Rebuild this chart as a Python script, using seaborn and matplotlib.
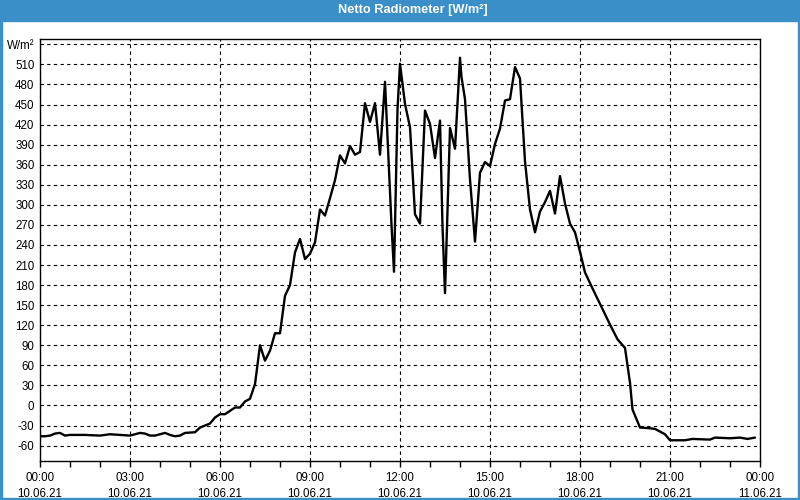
import matplotlib
matplotlib.use("Agg")
import matplotlib.pyplot as plt
from matplotlib.patches import Rectangle
from matplotlib.ticker import MultipleLocator
import seaborn as sns
import pandas as pd

times = ["00:00", "00:10", "00:20", "00:30", "00:40", "00:50", "01:00", "01:30", "02:00", "02:20",
         "02:40", "03:00", "03:20", "03:30", "03:40", "03:50", "04:00", "04:10", "04:20", "04:30",
         "04:40", "04:50", "05:10", "05:20", "05:30", "05:40", "05:50", "06:00", "06:10", "06:20",
         "06:30", "06:40", "06:50", "07:00", "07:10", "07:20", "07:30", "07:40", "07:50", "08:00",
         "08:10", "08:20", "08:30", "08:40", "08:50", "09:00", "09:10", "09:20", "09:30", "09:40",
         "09:50", "10:00", "10:10", "10:20", "10:30", "10:40", "10:50", "11:00", "11:10", "11:20",
         "11:30", "11:43", "11:48", "11:55", "12:00", "12:10", "12:20", "12:30", "12:40", "12:50",
         "13:00", "13:10", "13:20", "13:25", "13:30", "13:40", "13:50", "14:00", "14:03", "14:10",
         "14:20", "14:30", "14:40", "14:50", "15:00", "15:10", "15:20", "15:30", "15:40", "15:50",
         "16:00", "16:10", "16:20", "16:30", "16:40", "16:50", "17:00", "17:10", "17:20", "17:30",
         "17:40", "17:50", "18:00", "18:10", "18:25", "18:40", "19:00", "19:15", "19:30", "19:40",
         "19:45", "19:55", "20:00", "20:20", "20:30", "20:50", "21:00", "21:30", "21:45", "22:20",
         "22:30", "23:00", "23:20", "23:35", "23:50"]
values = [-46, -46, -45, -42, -41, -45, -44, -44, -45, -43,
          -44, -45, -41, -42, -45, -45, -43, -41, -44, -46,
          -45, -41, -40, -33, -30, -27, -18, -13, -13, -8,
          -3, -3, 6, 10, 32, 90, 67, 82, 108, 108,
          164, 180, 229, 249, 219, 227, 244, 293, 284, 310,
          337, 374, 362, 388, 375, 379, 452, 424, 452, 375,
          484, 270, 200, 443, 511, 451, 416, 286, 272, 441,
          421, 370, 426, 268, 168, 415, 384, 520, 491, 458,
          338, 245, 348, 364, 358, 391, 414, 456, 458, 506,
          489, 365, 293, 259, 290, 304, 321, 287, 343, 302,
          272, 259, 230, 199, 175, 152, 121, 99, 86, 34,
          -6, -24, -33, -34, -35, -43, -52, -52, -50, -51,
          -48, -49, -48, -50, -48]

x_tick_hours = [0, 3, 6, 9, 12, 15, 18, 21, 24]
x_tick_labels = ["00:00\n10.06.21", "03:00\n10.06.21", "06:00\n10.06.21", "09:00\n10.06.21",
                 "12:00\n10.06.21", "15:00\n10.06.21", "18:00\n10.06.21", "21:00\n10.06.21",
                 "00:00\n11.06.21"]
y_ticks = list(range(-60, 541, 30))
y_tick_labels = [str(v) for v in y_ticks[:-1]] + ["W/m²"]
title = "Netto Radiometer [W/m²]"

def to_hours(t):
    h, m = t.split(":")
    return int(h) + int(m) / 60.0

df = pd.DataFrame({"hour": [to_hours(t) for t in times], "value": values})

sns.set_style("white")
plt.rcParams["font.family"] = ["Liberation Sans", "DejaVu Sans"]

fig = plt.figure(figsize=(8, 5), dpi=100)
fig.patch.set_facecolor("white")
ax = fig.add_axes([40 / 800, 1 - 461 / 500, 720 / 800, (461 - 39) / 500])

sns.lineplot(data=df, x="hour", y="value", ax=ax, color="black", linewidth=1.7,
             sort=False, estimator=None)

ax.set_xlim(0, 24)
ax.set_ylim(-83, 548)
ax.set_xticks(x_tick_hours)
ax.set_xticklabels(x_tick_labels, fontsize=8.3, linespacing=1.4)
ax.xaxis.set_minor_locator(MultipleLocator(1))
ax.set_yticks(y_ticks)
ax.set_yticklabels(y_tick_labels, fontsize=8.3)
ax.tick_params(axis="x", which="both", direction="out", length=4, width=1,
               color="black", bottom=True, pad=4, labelcolor="black")
ax.tick_params(axis="y", which="both", length=0, pad=4, labelcolor="black")
ax.set_xlabel("")
ax.set_ylabel("")
ax.grid(True, which="major", color="black", linestyle=(0, (3, 3)), linewidth=0.8)
ax.set_axisbelow(True)
for s in ax.spines.values():
    s.set_visible(True)
    s.set_color("black")
    s.set_linewidth(1)

blue = "#3B8FC8"
fig.patches.append(Rectangle((0, 1 - 21 / 500), 1, 21 / 500, transform=fig.transFigure,
                             color=blue, zorder=0))
fig.patches.append(Rectangle((0, 0), 2 / 800, 1, transform=fig.transFigure, color=blue, zorder=0))
fig.patches.append(Rectangle((1 - 2 / 800, 0), 2 / 800, 1, transform=fig.transFigure, color=blue, zorder=0))
fig.patches.append(Rectangle((0, 0), 1, 2 / 500, transform=fig.transFigure, color=blue, zorder=0))
fig.text(413 / 800, 1 - 10.5 / 500, title, color="white", fontsize=9.2, fontweight="bold",
         ha="center", va="center")

fig.savefig("out.png", dpi=100)
